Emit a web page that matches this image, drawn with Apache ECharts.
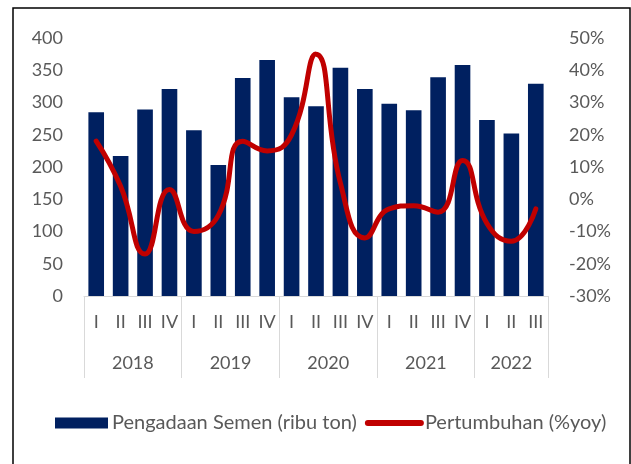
<!DOCTYPE html>
<html>
<head>
<meta charset="utf-8">
<script src="https://cdn.jsdelivr.net/npm/echarts@6/dist/echarts.min.js"></script>
<style>
    html, body { margin: 0; padding: 0; background: #fff; }
    #chart { width: 631px; height: 464px; }
</style>
</head>
<body>
<div id="chart"></div>
<script>
const years = ['2018', '2019', '2020', '2021', '2022']
const quartersPerYear = [4, 4, 4, 4, 3]
const quarterNames = ['I', 'II', 'III', 'IV']

// Pengadaan Semen (ribu ton)
const pengadaan = [285, 217, 289, 321, 257, 203, 338, 366, 308, 294, 354,
    321, 298, 288, 339, 358, 273, 252, 329]
// Pertumbuhan (%yoy)
const pertumbuhan = [18, 4, -17, 3, -10, -5, 18, 15, 20, 45, 5,
    -12, -3, -2, -4, 12, -7.5, -13, -3]

const gray = '#595959'
const axisGray = '#D9D9D9'
const font = 'Lato, "Open Sans", sans-serif'

// quarter labels, one per bar, and the index where each year starts
const quarters = []
const yearStarts = []
quartersPerYear.forEach((n) => {
    yearStarts.push(quarters.length)
    for (let i = 0; i < n; i++) quarters.push(quarterNames[i])
})

// year labels on a half-quarter point axis so each sits in the middle of its group
const yearAxisData = new Array(quarters.length * 2 + 1).fill('')
let pos = 0
years.forEach((y, i) => {
    yearAxisData[pos + quartersPerYear[i]] = y
    pos += quartersPerYear[i] * 2
})

const chartInstance = echarts.init(document.getElementById('chart'))

chartInstance.setOption({
    animation: false,
    textStyle: { fontFamily: font },
    grid: {
        left: 84,
        right: 83,
        top: 38,
        bottom: 168,
        containLabel: false
    },
    xAxis: [{
        type: 'category',
        position: 'bottom',
        data: quarters,
        axisLine: { lineStyle: { color: axisGray, width: 1 } },
        axisTick: {
            show: true,
            length: 82,
            lineStyle: { color: axisGray, width: 1 },
            interval: (idx) => yearStarts.includes(idx)
        },
        axisLabel: {
            color: gray,
            fontSize: 18,
            margin: 17,
            interval: 0
        },
        splitLine: { show: false }
    }, {
        type: 'category',
        position: 'bottom',
        boundaryGap: false,
        data: yearAxisData,
        axisLine: { show: false },
        axisTick: { show: false },
        axisLabel: {
            color: gray,
            fontSize: 18,
            margin: 58,
            interval: 0
        },
        splitLine: { show: false }
    }],
    yAxis: [{
        type: 'value',
        min: 0,
        max: 400,
        interval: 50,
        axisLine: { show: false },
        axisTick: { show: false },
        splitLine: { show: false },
        axisLabel: { color: gray, fontSize: 18, margin: 21 }
    }, {
        type: 'value',
        min: -30,
        max: 50,
        interval: 10,
        position: 'right',
        axisLine: { show: false },
        axisTick: { show: false },
        splitLine: { show: false },
        axisLabel: {
            color: gray,
            fontSize: 18,
            margin: 21,
            formatter: '{value}%'
        }
    }],
    legend: {
        top: 408,
        left: 50,
        itemWidth: 53,
        itemHeight: 11,
        itemGap: 8,
        textStyle: { color: gray, fontSize: 20, padding: [0, 0, 0, -1] },
        data: [
            { name: 'Pengadaan Semen (ribu ton)', icon: 'rect' },
            {
                name: 'Pertumbuhan (%yoy)',
                itemStyle: { opacity: 0 },
                lineStyle: { width: 6, cap: 'round', color: '#C00000' }
            }
        ]
    },
    graphic: [{
        type: 'rect',
        shape: { x: 13, y: 8, width: 617, height: 470 },
        style: { fill: 'none', stroke: '#000', lineWidth: 1.5 },
        silent: true
    }],
    series: [{
        name: 'Pengadaan Semen (ribu ton)',
        type: 'bar',
        xAxisIndex: 0,
        yAxisIndex: 0,
        data: pengadaan,
        barCategoryGap: '36%',
        itemStyle: { color: '#002060' }
    }, {
        name: 'Pertumbuhan (%yoy)',
        type: 'line',
        xAxisIndex: 0,
        yAxisIndex: 1,
        data: pertumbuhan,
        smooth: 0.5,
        symbol: 'none',
        lineStyle: { color: '#C00000', width: 5, cap: 'round' },
        itemStyle: { color: '#C00000' }
    }]
})
</script>
</body>
</html>
